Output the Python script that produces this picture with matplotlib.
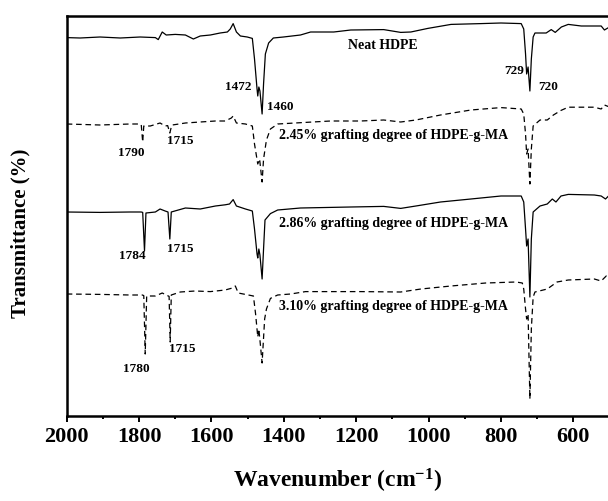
import matplotlib
matplotlib.use("Agg")
import matplotlib.pyplot as plt
from matplotlib.ticker import MultipleLocator

plt.rcParams['font.family'] = ['Liberation Serif', 'DejaVu Serif']
plt.rcParams['font.weight'] = 'bold'
plt.rcParams['mathtext.fontset'] = 'custom'
plt.rcParams['mathtext.rm'] = 'Liberation Serif:bold'
plt.rcParams['mathtext.default'] = 'rm'

# ---------------- data (wavenumber, transmittance offset scale) ----------------
neat_wn = [2000, 1963, 1908, 1852, 1797, 1755, 1747, 1736, 1725, 1700, 1672, 1650, 1631,
           1603, 1576, 1556, 1548, 1540, 1531, 1520, 1501, 1487, 1481, 1474, 1472, 1469,
           1466, 1460, 1456, 1451, 1442, 1429, 1401, 1354, 1326, 1262, 1215, 1124, 1077,
           1049, 1002, 938, 855, 800, 744, 737, 732, 729, 725, 720, 716, 711, 706, 697,
           675, 661, 650, 633, 614, 578, 523, 514, 500]
neat_t = [94.6, 94.5, 94.75, 94.5, 94.75, 94.6, 94.1, 96.0, 95.25, 95.4, 95.25, 94.25, 95.0,
          95.25, 95.75, 96.0, 96.75, 98.1, 96.0, 95.0, 94.75, 94.4, 89.25, 81.75, 80.0, 82.25,
          81.25, 75.5, 83.0, 90.5, 93.25, 94.5, 94.75, 95.25, 96.0, 96.0, 96.5, 96.6, 95.9,
          96.0, 96.9, 97.9, 98.1, 98.25, 98.1, 96.75, 90.5, 85.5, 87.25, 81.25, 89.25, 94.75,
          95.75, 95.75, 95.75, 96.6, 95.9, 97.25, 97.9, 97.5, 97.5, 96.5, 97.25]

g245_wn = [2000, 1908, 1825, 1797, 1794, 1790, 1787, 1769, 1742, 1728, 1721, 1715, 1710,
           1708, 1672, 1631, 1589, 1562, 1545, 1540, 1531, 1506, 1487, 1481, 1472, 1467,
           1460, 1456, 1448, 1437, 1417, 1340, 1271, 1188, 1124, 1077, 1035, 967, 883,
           800, 744, 737, 732, 729, 725, 720, 716, 711, 692, 672, 655, 634, 614, 542, 523,
           514, 500]
g245_t = [73.0, 72.75, 73.0, 73.0, 72.8, 68.5, 72.5, 72.5, 73.25, 72.5, 72.6, 70.75, 72.6,
          72.75, 73.25, 73.5, 73.75, 73.75, 74.5, 75.0, 73.25, 73.0, 72.5, 68.0, 63.0, 64.25,
          58.5, 64.25, 69.0, 71.75, 73.0, 73.4, 73.75, 73.75, 74.0, 73.5, 74.0, 75.25, 76.5,
          77.1, 76.75, 75.5, 70.5, 65.5, 66.75, 58.0, 66.75, 72.5, 74.0, 74.0, 75.25, 76.4,
          77.2, 77.2, 76.75, 77.75, 77.25]

g286_wn = [2000, 1908, 1825, 1794, 1790, 1785, 1781, 1755, 1742, 1728, 1720, 1715, 1711,
           1672, 1631, 1589, 1562, 1550, 1540, 1531, 1506, 1487, 1481, 1474, 1472, 1469,
           1466, 1460, 1456, 1452, 1437, 1417, 1354, 1215, 1124, 1077, 1035, 967, 883, 800,
           744, 737, 732, 729, 725, 720, 716, 711, 692, 672, 658, 648, 634, 614, 542, 523,
           511, 500]
g286_t = [51.0, 50.9, 51.0, 51.0, 50.9, 41.25, 50.75, 51.0, 51.75, 51.25, 51.0, 44.25, 51.0,
          52.0, 51.75, 52.5, 52.8, 53.0, 54.1, 52.5, 51.75, 51.25, 46.75, 40.5, 39.5, 41.75,
          40.25, 34.25, 41.75, 49.0, 50.6, 51.5, 52.0, 52.25, 52.4, 51.9, 52.5, 53.5, 54.25,
          55.0, 55.0, 53.5, 46.75, 42.5, 44.25, 29.75, 44.25, 51.0, 52.5, 53.0, 54.25, 53.5,
          55.0, 55.4, 55.25, 55.0, 54.25, 55.25]

g310_wn = [2000, 1908, 1825, 1791, 1787, 1783, 1779, 1755, 1736, 1725, 1717, 1714, 1711,
           1686, 1645, 1603, 1562, 1542, 1534, 1526, 1498, 1484, 1478, 1472, 1469, 1466,
           1460, 1453, 1448, 1437, 1417, 1381, 1340, 1188, 1077, 1021, 938, 842, 758, 741,
           737, 732, 729, 725, 720, 716, 711, 706, 692, 672, 645, 614, 542, 523, 509, 500]
g310_t = [30.5, 30.4, 30.25, 30.25, 30.1, 15.5, 30.0, 30.0, 30.75, 30.25, 29.9, 18.5, 30.25,
          31.0, 31.25, 31.1, 31.5, 32.0, 32.5, 30.75, 30.25, 30.0, 25.5, 19.75, 21.75, 19.0,
          13.25, 24.25, 26.75, 29.4, 30.25, 30.5, 31.1, 31.1, 31.0, 31.75, 32.5, 33.25, 33.5,
          33.25, 31.75, 26.75, 24.25, 25.5, 4.25, 21.75, 29.75, 31.0, 31.3, 31.75, 33.5, 34.0,
          34.25, 33.75, 35.0, 34.5]

series_labels = ["Neat HDPE",
                 "2.45% grafting degree of HDPE-g-MA",
                 "2.86% grafting degree of HDPE-g-MA",
                 "3.10% grafting degree of HDPE-g-MA"]
series_label_pos = [(1127, 93.0), (1413, 70.3), (1413, 48.3), (1413, 27.6)]

peak_labels = ["1472", "1460", "729", "720", "1790", "1715", "1784", "1715", "1780", "1715"]
peak_label_pos = [(1525, 82.5), (1409, 77.6), (763, 86.5), (670, 82.6),
                  (1822, 66.0), (1685, 69.0), (1818, 40.3), (1685, 42.1),
                  (1809, 11.9), (1681, 16.9)]

xticks_major = [2000, 1800, 1600, 1400, 1200, 1000, 800, 600]

# ---------------- figure ----------------
W, H, DPI = 608, 502, 100
fig = plt.figure(figsize=(W / DPI, H / DPI), dpi=DPI)
ax = fig.add_axes([66.7 / W, 1 - 417 / H, (609.5 - 66.7) / W, 400 / H])

lw = 0.9
ax.plot(neat_wn, neat_t, color='black', lw=lw)
ax.plot(g245_wn, g245_t, color='black', lw=lw, ls=(0, (4.5, 3)))
ax.plot(g286_wn, g286_t, color='black', lw=lw)
ax.plot(g310_wn, g310_t, color='black', lw=lw, ls=(0, (4.5, 3)))

for txt, (x, y) in zip(series_labels, series_label_pos):
    ha = 'center' if txt == "Neat HDPE" else 'left'
    ax.text(x, y, txt, fontsize=10, fontweight='bold', ha=ha, va='center')
for txt, (x, y) in zip(peak_labels, peak_label_pos):
    ax.text(x, y, txt, fontsize=9.5, fontweight='bold', ha='center', va='center')

ax.set_xlim(2000, 500)
ax.set_ylim(0, 100)
ax.set_xticks(xticks_major)
ax.set_xticklabels([str(v) for v in xticks_major])
ax.xaxis.set_minor_locator(MultipleLocator(100))
ax.tick_params(axis='x', which='major', direction='out', length=4.5, width=1.4,
               labelsize=16, pad=3)
ax.tick_params(axis='x', which='minor', direction='out', length=2.3, width=1.4)
ax.set_yticks([])
for s in ax.spines.values():
    s.set_linewidth(1.8)
for lab in ax.get_xticklabels():
    lab.set_fontweight('bold')

fig.text(338 / W, 1 - 481 / H, "Wavenumber (cm$^{-1}$)", fontsize=17, fontweight='bold',
         ha='center', va='center')
fig.text(20 / W, 1 - 233 / H, "Transmittance (%)", fontsize=15, fontweight='bold',
         ha='center', va='center', rotation=90)

fig.savefig("out.png", dpi=DPI)
